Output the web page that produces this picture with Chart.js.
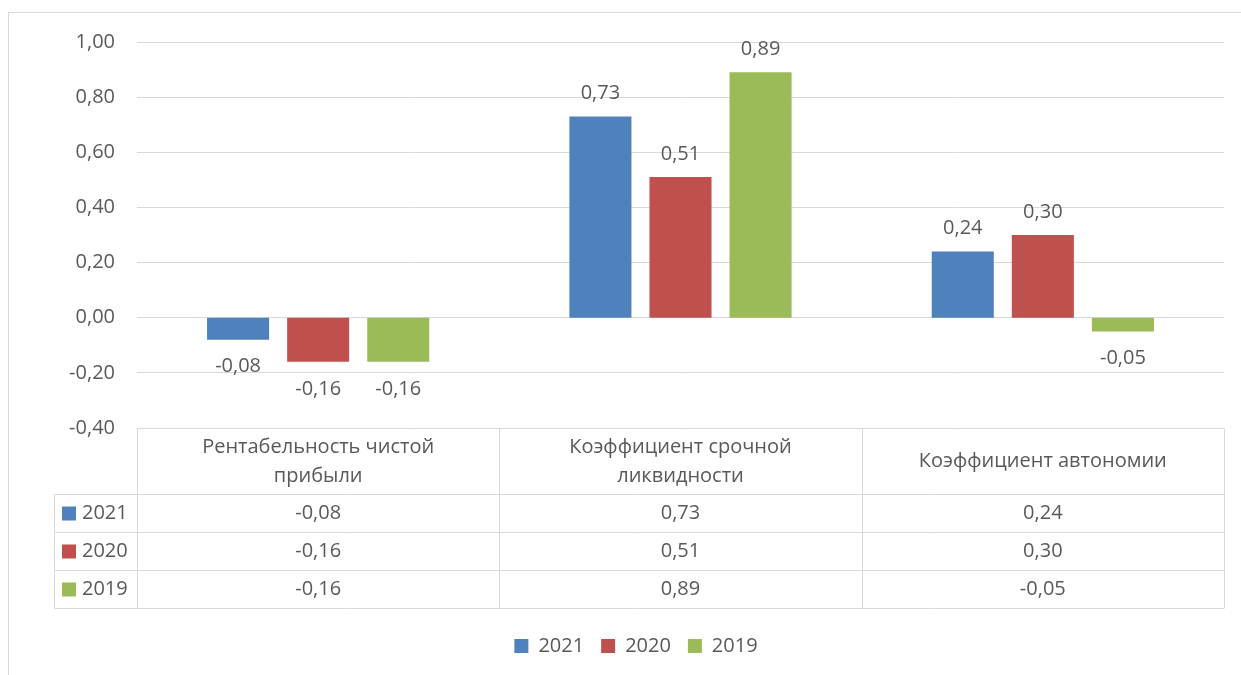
<!DOCTYPE html>
<html>
<head>
<meta charset="utf-8">
<script src="https://cdn.jsdelivr.net/npm/chart.js@4"></script>
<style>
  body { margin: 0; background: #fff; }
</style>
</head>
<body>
<canvas id="chart" width="1241" height="675"></canvas>
<script>
// данные
var categories = [["Рентабельность чистой", "прибыли"], ["Коэффициент срочной", "ликвидности"], ["Коэффициент автономии"]];
var years = ["2021", "2020", "2019"];
var values2021 = [-0.08, 0.73, 0.24];
var values2020 = [-0.16, 0.51, 0.30];
var values2019 = [-0.16, 0.89, -0.05];
var yMin = -0.4, yMax = 1.0, yStep = 0.2;

var colors = ["#4f81bd", "#c0504d", "#9bbb59"];
var seriesValues = [values2021, values2020, values2019];
var textColor = "#595959";
var lineColor = "#d9d9d9";
var fontFamily = "'Open Sans', sans-serif";

function fmt(v) {
  if (Math.abs(v) < 1e-9) v = 0;
  return v.toFixed(2).replace(".", ",");
}

Chart.defaults.color = textColor;
Chart.defaults.font.family = fontFamily;
Chart.defaults.font.size = 20;

// подписи значений над/под столбцами
var valueLabels = {
  id: "valueLabels",
  afterLayout: function(chart) {
    // легенда в оригинале чуть правее центра
    chart.legend.left += 24;
    chart.legend.right += 24;
  },
  afterDatasetsDraw: function(chart) {
    var ctx = chart.ctx;
    ctx.save();
    ctx.font = "20px " + fontFamily;
    ctx.fillStyle = textColor;
    ctx.textAlign = "center";
    ctx.textBaseline = "middle";
    chart.data.datasets.forEach(function(ds, i) {
      chart.getDatasetMeta(i).data.forEach(function(bar, j) {
        var v = ds.data[j];
        var y = v >= 0 ? bar.y - 23 : bar.y + 27;
        ctx.fillText(fmt(v), bar.x, y);
      });
    });
    ctx.restore();
  }
};

// таблица данных под графиком
var dataTable = {
  id: "dataTable",
  beforeDraw: function(chart) {
    var ctx = chart.ctx;
    ctx.save();
    ctx.strokeStyle = lineColor;
    ctx.lineWidth = 1;
    ctx.strokeRect(8.5, 12.5, chart.width + 50, chart.height + 50);
    ctx.restore();
  },
  afterDraw: function(chart) {
    var ctx = chart.ctx;
    var area = chart.chartArea;
    var xs = chart.scales.x;
    var top = Math.round(area.bottom) + 0.5;
    var headH = 66, rowH = 38, legLeft = 54.5;
    var colW = (area.right - area.left) / categories.length;
    var bottom = top + headH + rowH * years.length;

    ctx.save();
    ctx.strokeStyle = lineColor;
    ctx.lineWidth = 1;
    ctx.beginPath();
    for (var c = 0; c <= categories.length; c++) {
      var x = Math.round(area.left + colW * c) + 0.5;
      ctx.moveTo(x, top);
      ctx.lineTo(x, bottom);
    }
    for (var r = 0; r <= years.length; r++) {
      var y = top + headH + rowH * r;
      ctx.moveTo(legLeft, y);
      ctx.lineTo(area.right, y);
    }
    ctx.moveTo(legLeft, top + headH);
    ctx.lineTo(legLeft, bottom);
    ctx.stroke();

    ctx.font = "20px " + fontFamily;
    ctx.fillStyle = textColor;
    ctx.textAlign = "center";
    ctx.textBaseline = "middle";
    categories.forEach(function(lines, i) {
      var cx = xs.getPixelForValue(i);
      var cy = top + headH / 2;
      var lh = 29;
      lines.forEach(function(t, k) {
        ctx.fillText(t, cx, cy + (k - (lines.length - 1) / 2) * lh);
      });
    });

    years.forEach(function(yr, r) {
      var cy = top + headH + rowH * r + rowH / 2;
      ctx.fillStyle = colors[r];
      ctx.fillRect(62, cy - 7, 14, 14);
      ctx.fillStyle = textColor;
      ctx.textAlign = "left";
      ctx.fillText(yr, 82, cy);
      ctx.textAlign = "center";
      seriesValues[r].forEach(function(v, i) {
        ctx.fillText(fmt(v), xs.getPixelForValue(i), cy);
      });
    });
    ctx.restore();
  }
};

var datasets = years.map(function(yr, i) {
  return {
    label: yr,
    data: seriesValues[i],
    backgroundColor: colors[i],
    borderWidth: 0,
    categoryPercentage: 0.663,
    barPercentage: 0.775
  };
});

new Chart(document.getElementById("chart"), {
  type: "bar",
  data: { labels: categories, datasets: datasets },
  options: {
    responsive: false,
    animation: false,
    layout: { padding: { top: 42, right: 17, bottom: 9, left: 0 } },
    plugins: {
      tooltip: { enabled: false },
      legend: {
        position: "bottom",
        labels: { boxWidth: 14, boxHeight: 14, padding: 17, font: { size: 20 } }
      }
    },
    scales: {
      x: {
        grid: { display: false },
        border: { display: false },
        ticks: { display: false },
        afterFit: function(scale) { scale.height = 191; }
      },
      y: {
        min: yMin,
        max: yMax,
        ticks: {
          stepSize: yStep,
          padding: 22,
          callback: function(v) { return fmt(v); }
        },
        grid: { color: lineColor, drawTicks: false },
        border: { display: false },
        afterFit: function(scale) { scale.width = 137; }
      }
    }
  },
  plugins: [valueLabels, dataTable]
});
</script>
</body>
</html>
